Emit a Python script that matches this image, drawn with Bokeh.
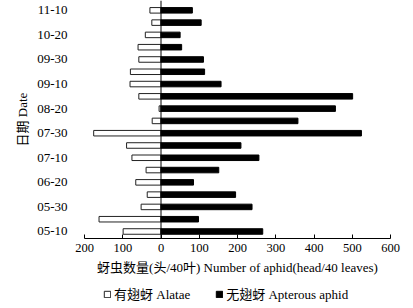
from bokeh.plotting import figure
from bokeh.layouts import column
from bokeh.models import Range1d, FixedTicker, Span, Legend, LegendItem, ColumnDataSource
from bokeh.embed import file_html
from bokeh.resources import INLINE

dates = ["05-10", "05-20", "05-30", "06-10", "06-20", "06-30", "07-10", "07-20", "07-30",
         "08-10", "08-20", "08-30", "09-10", "09-20", "09-30", "10-10", "10-20", "10-30", "11-10"]
alatae = [99, 162, 52, 36, 66, 39, 76, 90, 176, 23, 5, 58, 81, 80, 58, 60, 41, 24, 29]
apterous = [266, 98, 238, 195, 85, 151, 256, 209, 524, 358, 456, 501, 157, 114, 111, 54, 50, 105, 82]
x_ticks = [-200, -100, 0, 100, 200, 300, 400, 500, 600]
x_tick_labels = ["200", "100", "0", "100", "200", "300", "400", "500", "600"]
shown_dates = ["05-10", "05-30", "06-20", "07-10", "07-30", "08-20", "09-10", "09-30", "10-20", "11-10"]
series_names = ["有翅蚜 Alatae", "无翅蚜 Apterous aphid"]

FONT = "'Liberation Serif', 'Noto Sans CJK SC', serif"
AL_STYLE = dict(fill_color="white", line_color="#222222", line_width=1)
AP_STYLE = dict(fill_color="black", line_color="black", line_width=1)

idx = list(range(len(dates)))
src = ColumnDataSource(dict(y=idx, left=[-v for v in alatae], right=apterous))

p = figure(width=413, height=281, output_backend="svg", toolbar_location=None,
           x_range=Range1d(-200, 600), y_range=Range1d(-0.57, 18.8),
           min_border_left=84, min_border_right=23, min_border_top=0, min_border_bottom=43)
p.outline_line_color = None
p.xgrid.visible = False
p.ygrid.visible = False

p.hbar(y="y", left="left", right=0, height=0.45, source=src, **AL_STYLE)
p.hbar(y="y", left=0, right="right", height=0.45, source=src, **AP_STYLE)

p.add_layout(Span(location=0, dimension="height", line_color="black", line_width=1))

# x axis
p.xaxis.ticker = FixedTicker(ticks=x_ticks)
p.xaxis.major_label_overrides = {t: l for t, l in zip(x_ticks, x_tick_labels)}
p.xaxis.major_tick_in = 4
p.xaxis.major_tick_out = 0
p.xaxis.minor_tick_line_color = None
p.xaxis.axis_line_color = "black"
p.xaxis.major_tick_line_color = "black"
p.xaxis.major_label_text_font = FONT
p.xaxis.major_label_text_font_size = "12.5px"
p.xaxis.major_label_text_color = "black"
p.xaxis.major_label_standoff = 5
p.xaxis.axis_label = "蚜虫数量(头/40叶) Number of aphid(head/40 leaves)"
p.xaxis.axis_label_text_font = FONT
p.xaxis.axis_label_text_font_size = "13px"
p.xaxis.axis_label_text_font_style = "normal"
p.xaxis.axis_label_text_color = "black"
p.xaxis.axis_label_standoff = 5

# y axis
y_ticks = [dates.index(d) for d in shown_dates]
p.yaxis.ticker = FixedTicker(ticks=y_ticks)
p.yaxis.major_label_overrides = {dates.index(d): d for d in shown_dates}
p.yaxis.axis_line_color = None
p.yaxis.major_tick_line_color = None
p.yaxis.minor_tick_line_color = None
p.yaxis.major_tick_in = 0
p.yaxis.major_tick_out = 0
p.yaxis.minor_tick_in = 0
p.yaxis.minor_tick_out = 0
p.yaxis.major_label_text_font = FONT
p.yaxis.major_label_text_font_size = "13px"
p.yaxis.major_label_text_color = "black"
p.yaxis.major_label_standoff = 17
p.yaxis.axis_label = "日期 Date"
p.yaxis.axis_label_text_font = FONT
p.yaxis.axis_label_text_font_size = "13px"
p.yaxis.axis_label_text_font_style = "normal"
p.yaxis.axis_label_text_color = "black"
p.yaxis.axis_label_standoff = 4

# legend strip below the chart (its frame is aligned with the chart's frame)
lg = figure(width=413, height=27, output_backend="svg", toolbar_location=None,
            x_range=Range1d(1000, 1001), y_range=Range1d(1000, 1001), min_border=0)
lg.outline_line_color = None
lg.axis.visible = False
lg.grid.visible = False
l_al = lg.hbar(y="y", left="left", right=0, height=0.45, source=src, **AL_STYLE)
l_ap = lg.hbar(y="y", left=0, right="right", height=0.45, source=src, **AP_STYLE)
legend = Legend(items=[LegendItem(label=series_names[0], renderers=[l_al]),
                       LegendItem(label=series_names[1], renderers=[l_ap])],
                location=(19, 5), orientation="horizontal",
                padding=0, margin=0, spacing=25, glyph_width=8, glyph_height=8,
                label_standoff=3, label_text_font=FONT, label_text_font_size="13px",
                label_text_color="black", label_height=14, border_line_color=None,
                background_fill_alpha=0)
lg.add_layout(legend, "center")

open("out.html", "w").write(file_html(column(p, lg, spacing=0), INLINE))
